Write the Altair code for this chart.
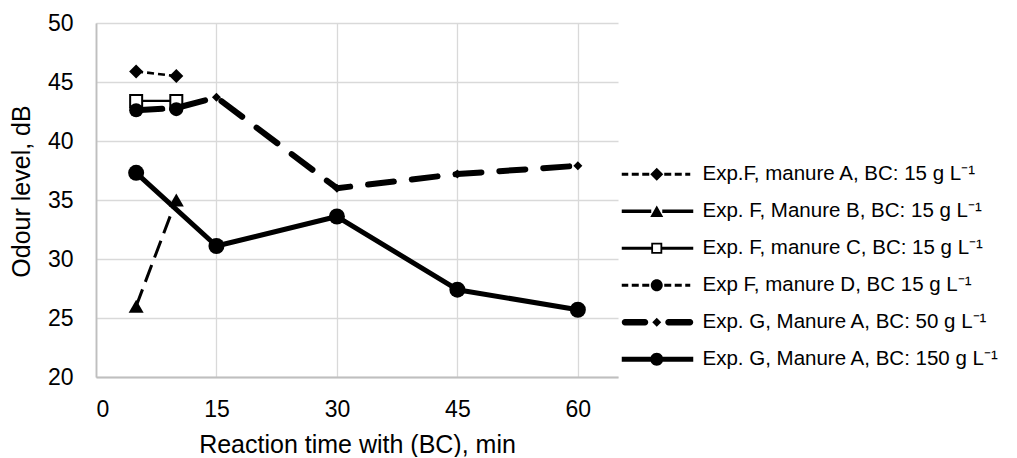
import altair as alt
import pandas as pd

# ---------------- data ----------------
series_names = [
    "Exp.F, manure A, BC: 15 g L\u207b\u00b9",
    "Exp. F, Manure B, BC: 15 g L\u207b\u00b9",
    "Exp. F, manure C, BC: 15 g L\u207b\u00b9",
    "Exp F, manure D, BC 15 g L\u207b\u00b9",
    "Exp. G, Manure A, BC: 50 g L\u207b\u00b9",
    "Exp. G, Manure A, BC: 150 g L\u207b\u00b9",
]
x_FA = [5, 10]
y_FA = [45.9, 45.5]
x_FB = [5, 10]
y_FB = [26.0, 35.0]
x_FC = [5, 10]
y_FC = [43.4, 43.4]
x_FD = [5, 10]
y_FD = [42.6, 42.7]
x_G50 = [5, 10, 15, 30, 45, 60]
y_G50 = [42.6, 42.8, 43.7, 36.0, 37.2, 37.9]
x_G150 = [5, 15, 30, 45, 60]
y_G150 = [37.3, 31.1, 33.6, 27.4, 25.7]
x_ticks = [0, 15, 30, 45, 60]
y_ticks = [20, 25, 30, 35, 40, 45, 50]

xs = [x_FA, x_FB, x_FC, x_FD, x_G50, x_G150]
ys = [y_FA, y_FB, y_FC, y_FD, y_G50, y_G150]
rows = []
for name, xv, yv in zip(series_names, xs, ys):
    for a, b in zip(xv, yv):
        rows.append({"series": name, "t": a, "odour": b})
df = pd.DataFrame(rows)

FONT = "Liberation Sans"

# ---------------- styles ----------------
styles = [
    dict(width=2.6, dash=[7, 4], cap="butt", shape="diamond", size=196, fill="black", stroke="black", sw=0),
    dict(width=3.0, dash=[18, 8], cap="butt", shape="triangle-up", size=225, fill="black", stroke="black", sw=0),
    dict(width=2.4, dash=None, cap="butt", shape="square", size=144, fill="white", stroke="black", sw=2),
    dict(width=2.6, dash=[7, 4], cap="butt", shape="circle", size=196, fill="black", stroke="black", sw=0),
    dict(width=6.0, dash=[26, 18], cap="round", shape="diamond", size=81, fill="black", stroke="black", sw=0),
    dict(width=5.0, dash=None, cap="butt", shape="circle", size=256, fill="black", stroke="black", sw=0),
]

# ---------------- legend symbol paths (pixel units, size=4 -> scale 1) ----------------
def rect(x0, x1, h):
    return f"M{x0},{-h}L{x1},{-h}L{x1},{h}L{x0},{h}Z"

def pill(x0, x1, h):
    return (f"M{x0 + h},{-h}L{x1 - h},{-h}A{h},{h} 0 0,1 {x1 - h},{h}"
            f"L{x0 + h},{h}A{h},{h} 0 0,1 {x0 + h},{-h}Z")

def circ(cx, r):
    return f"M{cx - r},0A{r},{r} 0 1,1 {cx + r},0A{r},{r} 0 1,1 {cx - r},0Z"

def diam(cx, r):
    return f"M{cx - r},0L{cx},{-r}L{cx + r},0L{cx},{r}Z"

def tri(cx, r):
    h = round(0.866 * r, 2)
    return f"M{cx},{-h}L{cx + r},{h}L{cx - r},{h}Z"

def osq(cx, s, t):
    i = s - t
    return (f"M{cx - s},{-s}L{cx + s},{-s}L{cx + s},{s}L{cx - s},{s}Z"
            f"M{cx - i},{-i}L{cx - i},{i}L{cx + i},{i}L{cx + i},{-i}Z")

C = 35.5
dash_l = rect(0.5, 7, 1.5) + rect(10.5, 17.5, 1.5) + rect(21, 28, 1.5)
dash_r = rect(43, 50, 1.5) + rect(53.5, 60.5, 1.5) + rect(64, 69, 1.5)
legend_paths = [
    dash_l + diam(C, 6.5) + dash_r,
    rect(0.5, 30, 1.7) + tri(C, 6.5) + rect(41, 72, 1.7),
    rect(0.5, 30, 1.5) + osq(C, 5.5, 1.8) + rect(41, 72, 1.5),
    dash_l + circ(C, 6) + dash_r,
    pill(0.5, 27, 3.2) + diam(C, 4.5) + pill(44, 72, 3.2),
    rect(0.5, 72, 2.6) + circ(C, 6.5),
]

xscale = alt.Scale(domain=[0, 65], nice=False, zero=False)
yscale = alt.Scale(domain=[20, 50], nice=False, zero=False)

xenc = alt.X(
    "t:Q", scale=xscale,
    axis=alt.Axis(values=x_ticks, title="Reaction time with (BC), min",
                  titleY=75, titleBaseline="alphabetic"),
)
yenc = alt.Y(
    "odour:Q", scale=yscale,
    axis=alt.Axis(values=y_ticks, title="Odour level, dB",
                  titleX=-67, titleY=168, titleBaseline="alphabetic", titleAngle=-90),
)

layers = []
for name, st in zip(series_names, styles):
    base = alt.Chart(df).transform_filter(alt.datum.series == name)
    line_kw = dict(color="black", strokeWidth=st["width"], strokeCap=st["cap"], strokeJoin="round")
    if st["dash"]:
        line_kw["strokeDash"] = st["dash"]
    layers.append(base.mark_line(**line_kw).encode(x=xenc, y=yenc))
    layers.append(
        base.mark_point(shape=st["shape"], size=st["size"], filled=True, fill=st["fill"],
                        stroke=st["stroke"], strokeWidth=st["sw"], opacity=1)
        .encode(x=xenc, y=yenc)
    )

legend_layer = (
    alt.Chart(df)
    .transform_filter("false")
    .mark_point(filled=True, color="black", size=4, opacity=1, strokeWidth=0)
    .encode(
        x=xenc, y=yenc,
        shape=alt.Shape(
            "series:N",
            scale=alt.Scale(domain=series_names, range=legend_paths),
            legend=alt.Legend(
                title=None, orient="none", legendX=515, legendY=141,
                symbolSize=4, symbolFillColor="black", symbolStrokeColor="black",
                symbolStrokeWidth=0, symbolOpacity=1,
                labelFont=FONT, labelFontSize=20.5, labelColor="black",
                labelOffset=71, labelLimit=500, rowPadding=16, padding=0,
            ),
        ),
    )
)

chart = (
    alt.layer(*layers, legend_layer)
    .properties(
        width=522, height=354,
        autosize=alt.AutoSizeParams(type="none"),
        padding={"left": 88, "top": 15, "right": 391, "bottom": 80},
    )
    .configure_view(stroke=None)
    .configure_axis(
        grid=True, gridColor="#d9d9d9", gridWidth=1.3,
        domainColor="#bfbfbf", domainWidth=1.8,
        ticks=False,
        labelFont=FONT, labelFontSize=23, labelColor="black",
        titleFont=FONT, titleFontSize=25, titleColor="black", titleFontWeight="normal",
    )
    .configure_axisX(labelPadding=21)
    .configure_axisY(labelPadding=23)
)

chart.save("out.html", embed_options={"renderer": "svg", "actions": False})
